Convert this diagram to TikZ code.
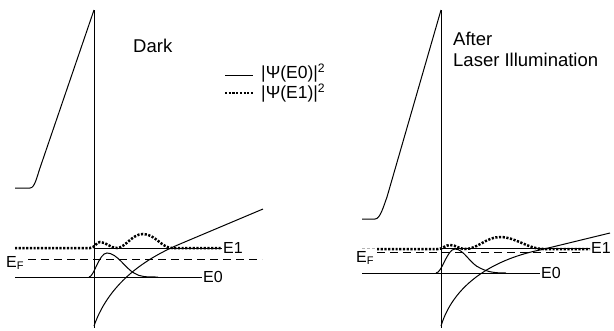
\documentclass[tikz,border=0pt]{standalone}
\usepackage{fontspec}
\setmainfont{Liberation Sans}
\begin{document}
\begin{tikzpicture}[x=1pt,y=-1pt,
  curve/.style={line width=1pt,black},
  dotwave/.style={line width=2.5pt,dash pattern=on 2.2pt off 1.5pt,black},
  fermi/.style={line width=1pt,dash pattern=on 8pt off 5pt},
  lbl/.style={font=\fontsize{16}{18}\selectfont,inner sep=0pt},
  big/.style={font=\fontsize{18.5}{21}\selectfont,inner sep=0pt},
  legtext/.style={font=\fontsize{17.5}{19}\selectfont,inner sep=0pt},
  ]
\useasboundingbox (0,0) rectangle (614,330);
% ================= LEFT PANEL (Dark) =================
\draw[curve] (94,10) -- (94,328);
\draw[curve] (15,188) -- (30,188) .. controls (35,188) and (37,176) .. (41,165) -- (94,10);
\draw[curve] (94,326) .. controls (110,280) and (150,256.6) .. (180,244) -- (263,209);
\draw[curve] (94,248) -- (222,248);
\draw[dotwave] (15,248) -- (90,248) .. controls (95,248) and (96,242) .. (100,242)
  .. controls (106,242) and (110,248) .. (117,248)
  .. controls (125,248) and (132,234) .. (143,234)
  .. controls (155,234) and (162,248) .. (172,248) -- (222,248);
\draw[fermi] (28,259) -- (262,259);
\draw[curve] (15,277) -- (202,277);
\draw[curve] (89,277) .. controls (94,277) and (99,253) .. (107,253)
  .. controls (117,253) and (125,268) .. (134,273)
  .. controls (140,277) and (146,277) .. (158,277);
\node[lbl,anchor=west] (e1l) at (223,248) {E1};
\node[lbl,anchor=west] (e0l) at (203,277) {E0};
\node[lbl,anchor=west] (efl) at (6,263) {E\textsubscript{\fontsize{11}{12}\selectfont F}};
\node[big,anchor=west] (dark) at (133,46) {Dark};
% legend
\draw[curve] (225,75) -- (253,75);
\node[legtext,anchor=west] (leg0) at (261,74) {|Ψ(E0)|\smash{\textsuperscript{2}}};
\draw[dotwave] (225,93) -- (253,93);
\node[legtext,anchor=west] (leg1) at (261,94) {|Ψ(E1)|\smash{\textsuperscript{2}}};
% ================= RIGHT PANEL (After Laser Illumination) =================
\draw[curve] (441,10) -- (441,328);
\draw[curve] (362,219) -- (375,219) .. controls (380,219) and (383,208) .. (387,197) -- (441,10);
\draw[curve] (441,326) .. controls (455,280) and (500,258) .. (540,250) -- (610,233);
\draw[line width=0.6pt,gray!60,dash pattern=on 3pt off 2pt] (362,248) -- (377,248);
\draw[curve] (441,248) -- (590,248);
\draw[fermi] (377,252) -- (583,252);
\draw[dotwave] (377,249) -- (438,249) .. controls (443,249) and (445,245) .. (450,245)
  .. controls (456,245) and (459,249) .. (465,249)
  .. controls (478,249) and (486,237) .. (500,237)
  .. controls (516,237) and (528,249) .. (543,249) -- (590,249);
\draw[curve] (362,273) -- (540,273);
\draw[curve] (436,273) .. controls (442,273) and (447,249) .. (455,249)
  .. controls (464,249) and (470,264) .. (480,268)
  .. controls (488,272) and (494,273) .. (506,273);
\node[lbl,anchor=west] (e1r) at (591,248) {E1};
\node[lbl,anchor=west] (e0r) at (541,273) {E0};
\node[lbl,anchor=west] (efr) at (356,258) {E\textsubscript{\fontsize{11}{12}\selectfont F}};
\node[big,anchor=west,align=left] (after) at (453,49) {After\\Laser Illumination};
\end{tikzpicture}
\end{document}
